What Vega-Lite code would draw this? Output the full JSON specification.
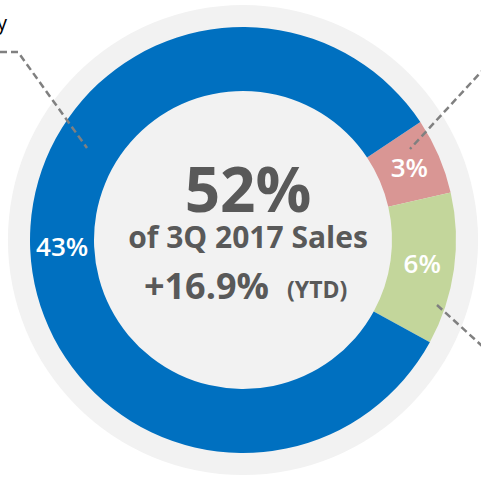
{
  "$schema": "https://vega.github.io/schema/vega-lite/v6.json",
  "width": 476,
  "height": 480,
  "autosize": "none",
  "padding": {"left": 5, "top": 0, "right": 0, "bottom": 0},
  "background": "#ffffff",
  "config": {"view": {"stroke": null}},
  "datasets": {
    "segments": [
      {"segment": "Segment 3%", "value": 3, "label": "3%", "o": 1},
      {"segment": "Segment 6%", "value": 6, "label": "6%", "o": 2},
      {"segment": "Segment 43%", "value": 43, "label": "43%", "o": 3}
    ],
    "leaders": [
      {"id": "tl", "i": 0, "x": -2.43, "y": 1.88},
      {"id": "tl", "i": 1, "x": -2.25, "y": 1.88},
      {"id": "tl", "i": 2, "x": -1.56, "y": 0.92},
      {"id": "tr", "i": 0, "x": 2.43, "y": 1.734},
      {"id": "tr", "i": 1, "x": 1.67, "y": 0.91},
      {"id": "br", "i": 0, "x": 1.94, "y": -0.65},
      {"id": "br", "i": 1, "x": 2.43, "y": -1.095}
    ],
    "edgeLabels": [
      {"text": "y", "x": -2.36, "y": 2.1}
    ],
    "center": [{"k": 1}]
  },
  "layer": [
    {
      "data": {"name": "center"},
      "mark": {"type": "arc", "theta": 0, "theta2": 6.2832, "radius": 235, "fill": "#f2f2f2"},
      "encoding": {}
    },
    {
      "data": {"name": "segments"},
      "mark": {"type": "arc", "radius": 213, "radius2": 149},
      "encoding": {
        "theta": {"field": "value", "type": "quantitative", "stack": true, "scale": {"range": [0.984, 7.267]}},
        "color": {"field": "segment", "type": "nominal", "legend": null,
          "scale": {"domain": ["Segment 3%", "Segment 6%", "Segment 43%"], "range": ["#d99694", "#c3d69b", "#0070c0"]}},
        "order": {"field": "o"}
      }
    },
    {
      "data": {"name": "segments"},
      "mark": {"type": "text", "radius": 181, "fill": "#ffffff", "fontSize": 26, "fontWeight": 600, "font": "Open Sans", "align": "center", "baseline": "middle"},
      "encoding": {
        "theta": {"field": "value", "type": "quantitative", "stack": true},
        "order": {"field": "o"},
        "text": {"field": "label"}
      }
    },
    {
      "data": {"name": "leaders"},
      "mark": {"type": "line", "stroke": "#808080", "strokeWidth": 2.5, "strokeDash": [7, 4], "clip": false},
      "encoding": {
        "x": {"field": "x", "type": "quantitative", "axis": null, "scale": {"domain": [-2.38, 2.38], "nice": false, "zero": false}},
        "y": {"field": "y", "type": "quantitative", "axis": null, "scale": {"domain": [-2.4, 2.4], "nice": false, "zero": false}},
        "detail": {"field": "id"},
        "order": {"field": "i"}
      }
    },
    {
      "data": {"name": "edgeLabels"},
      "mark": {"type": "text", "fontSize": 20, "font": "Open Sans", "fill": "#000000", "align": "right", "baseline": "alphabetic", "clip": false},
      "encoding": {
        "x": {"field": "x", "type": "quantitative"},
        "y": {"field": "y", "type": "quantitative"},
        "text": {"field": "text"}
      }
    },
    {
      "data": {"name": "center"},
      "mark": {"type": "text", "text": "52%", "font": "Open Sans", "fontWeight": "bold", "fontSize": 62, "fill": "#595959", "align": "center", "baseline": "alphabetic", "dx": 5, "dy": -28},
      "encoding": {}
    },
    {
      "data": {"name": "center"},
      "mark": {"type": "text", "text": "of 3Q 2017 Sales", "font": "Open Sans", "fontWeight": "bold", "fontSize": 30, "fill": "#595959", "align": "center", "baseline": "alphabetic", "dx": 5, "dy": 8},
      "encoding": {}
    },
    {
      "data": {"name": "center"},
      "mark": {"type": "text", "text": "+16.9%", "font": "Open Sans", "fontWeight": "bold", "fontSize": 36, "fill": "#595959", "align": "right", "baseline": "alphabetic", "dx": 26, "dy": 59},
      "encoding": {}
    },
    {
      "data": {"name": "center"},
      "mark": {"type": "text", "text": "(YTD)", "font": "Open Sans", "fontWeight": "bold", "fontSize": 23, "fill": "#595959", "align": "left", "baseline": "alphabetic", "dx": 44, "dy": 58},
      "encoding": {}
    }
  ]
}
